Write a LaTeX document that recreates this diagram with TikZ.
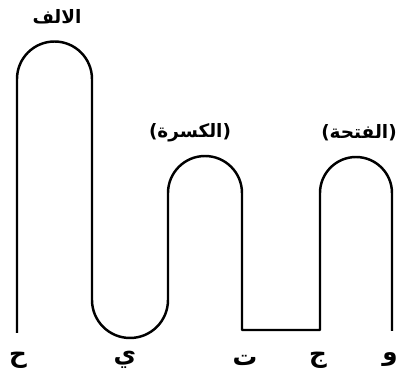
\documentclass[tikz,border=0pt]{standalone}
\usepackage{fontspec}
\newfontfamily\arabicfont[Script=Arabic]{DejaVu Sans}
\TeXXeTstate=1
\usetikzlibrary{positioning}
\newcommand{\ar}[1]{\beginR #1\endR}
\tikzset{
  stroke/.style={line width=1.4pt, line join=round},
  harf/.style={font=\arabicfont\bfseries\fontsize{10.5}{12}\selectfont, inner sep=0pt},
  bigharf/.style={harf, font=\arabicfont\bfseries\fontsize{14}{16}\selectfont}
}

\begin{document}
\begin{tikzpicture}[x=0.02cm,y=0.02cm]
  \useasboundingbox (0,0) rectangle (403,379);
  % feet and bends of the line
  \coordinate (f1) at (17,46);
  \coordinate (t1) at (17,300);
  \coordinate (u1) at (92,79);
  \coordinate (t2) at (168,186);
  \coordinate (f3) at (242,49);
  \coordinate (f4) at (320,49);
  \coordinate (t3) at (320,186);
  \coordinate (f5) at (392,48);

  \draw[stroke] (f1) -- (t1) arc[start angle=180, end angle=0, radius=0.75cm]
    -- (u1) arc[start angle=180, end angle=360, radius=0.76cm]
    -- (t2) arc[start angle=180, end angle=0, radius=0.74cm]
    -- (f3) -- (f4) -- (t3) arc[start angle=180, end angle=0, radius=0.72cm]
    -- (f5);

  % names over the arches
  \node[harf] (alif)  at (57,362)  {\ar{الالف}};
  \node[harf] (kasra) at (190,246) {\ar{(الكسرة)}};
  \node[harf] (fatha) at (359,246) {\ar{(الفتحة)}};

  % letters under the feet
  \node[bigharf] (ha)  at (18,19)  {\ar{ح}};
  \node[bigharf] (ya)  at (125,19) {\ar{ي}};
  \node[bigharf] (ta)  at (245,19) {\ar{ت}};
  \node[bigharf] (jim) at (318,19) {\ar{ج}};
  \node[bigharf] (waw) at (390,19) {\ar{و}};
\end{tikzpicture}
\end{document}
